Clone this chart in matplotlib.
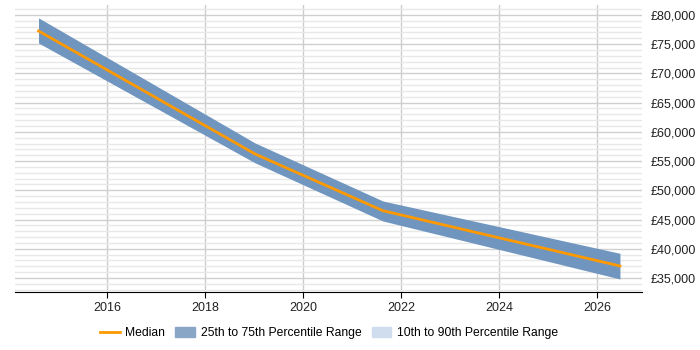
import matplotlib.pyplot as plt
from matplotlib.patches import Patch
from matplotlib.lines import Line2D
from matplotlib.ticker import MultipleLocator, FuncFormatter

plt.rcParams['font.family'] = ['Liberation Sans', 'DejaVu Sans']

# values
years = [2014.6, 2019.02, 2021.63, 2026.47]
median = [77260, 56215, 46510, 37050]
p25 = [75200, 54700, 44750, 34830]
p75 = [79500, 58100, 48170, 39220]

band_color = "#7096c0"
median_color = "#ff9900"

fig = plt.figure(figsize=(7, 3.5), dpi=100)
ax = fig.add_axes([15/700, 1 - 292/350, (642 - 15)/700, (292 - 5)/350])

ax.fill_between(years, p25, p75, color=band_color, lw=0, zorder=2)
ax.plot(years, median, color=median_color, lw=2, zorder=3)

ax.set_xlim(2014.12, 2026.92)
ax.set_ylim(32600, 81700)

ax.xaxis.set_major_locator(MultipleLocator(2))
ax.yaxis.set_major_locator(MultipleLocator(5000))
ax.yaxis.set_minor_locator(MultipleLocator(1000))
ax.yaxis.set_major_formatter(FuncFormatter(lambda v, p: "£{:,.0f}".format(v)))
ax.yaxis.tick_right()

ax.grid(axis="x", which="major", color="#cccccc", lw=1, zorder=0)
ax.grid(axis="y", which="major", color="#d0d0d0", lw=1, zorder=0)
ax.grid(axis="y", which="minor", color="#e8e8e8", lw=1, zorder=0)
ax.set_axisbelow(True)

for s in ["top", "left", "right"]:
    ax.spines[s].set_visible(False)
ax.spines["bottom"].set_color("black")

ax.tick_params(axis="y", which="both", length=0, pad=6, labelsize=9, labelcolor="#222222")
ax.tick_params(axis="x", length=4, color="black", labelsize=9, labelcolor="#222222")

handles = [
    Line2D([0], [0], color=median_color, lw=2),
    Patch(color="#8aa6c7"),
    Patch(color="#cfddee"),
]
labels = ["Median", "25th to 75th Percentile Range", "10th to 90th Percentile Range"]
fig.legend(handles, labels, loc="center", bbox_to_anchor=(0.47, 1 - 333/350), ncol=3,
           frameon=False, fontsize=8.7, handlelength=1.65, handleheight=0.9, columnspacing=0.85,
           handletextpad=0.42)

plt.savefig("out.png", dpi=100)
